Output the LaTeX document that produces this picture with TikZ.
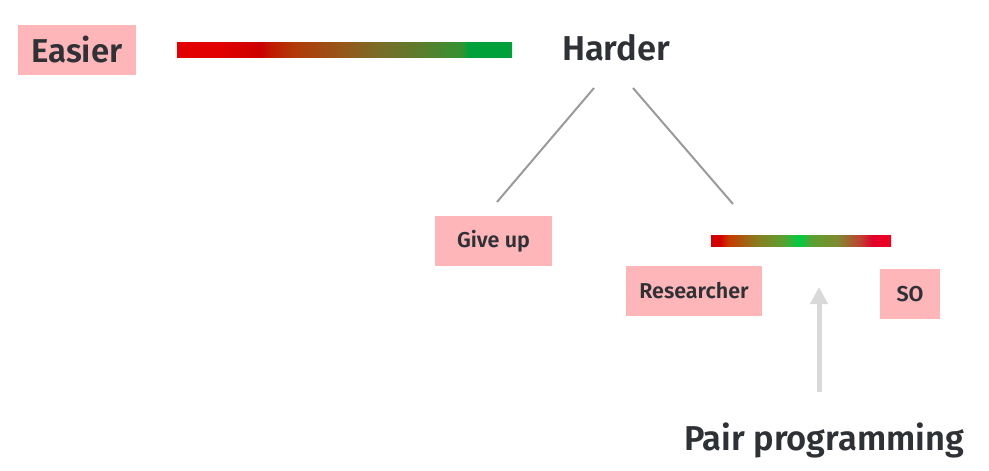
\documentclass[tikz,border=0pt]{standalone}
\usepackage{fontspec}
\setmainfont{Fira Sans}[UprightFont=* SemiBold,BoldFont=* Bold]
\usetikzlibrary{arrows.meta,positioning}
\definecolor{tagpink}{HTML}{FFB6B9}
\definecolor{txtgray}{HTML}{2E3136}
\definecolor{linegray}{HTML}{9A9A9A}
\definecolor{arrowgray}{HTML}{D9D9D9}
\definecolor{ra}{HTML}{E30000}
\definecolor{rb}{HTML}{CC0000}
\definecolor{rc}{HTML}{C01A00}
\definecolor{rd}{HTML}{B03A08}
\definecolor{re}{HTML}{985418}
\definecolor{rf}{HTML}{7A6C28}
\definecolor{rg}{HTML}{5C7C2C}
\definecolor{rh}{HTML}{349232}
\definecolor{ri}{HTML}{00A03A}
\definecolor{pa}{HTML}{D40000}
\definecolor{pb}{HTML}{C43C00}
\definecolor{pc}{HTML}{8C7A20}
\definecolor{pd}{HTML}{5AA030}
\definecolor{pe}{HTML}{00CC44}
\definecolor{pf}{HTML}{808A30}
\definecolor{pg}{HTML}{C04030}
\definecolor{ph}{HTML}{E0002A}
\definecolor{pi}{HTML}{F20020}
\pgfdeclarehorizontalshading{easyhard}{100bp}{color(0bp)=(ra); color(25bp)=(ra); color(31bp)=(ra);
  color(37.5bp)=(rb); color(39bp)=(rc); color(42.5bp)=(rd); color(49bp)=(re); color(55bp)=(rf);
  color(61bp)=(rg); color(67.5bp)=(rh); color(68.5bp)=(ri); color(75bp)=(ri); color(100bp)=(ri)}
\pgfdeclarehorizontalshading{pairbar}{100bp}{color(0bp)=(pa); color(25bp)=(pa); color(27.5bp)=(pa);
  color(30bp)=(pb); color(37.5bp)=(pc); color(45bp)=(pd); color(49.5bp)=(pe); color(53bp)=(pd);
  color(60bp)=(pf); color(66.5bp)=(pg); color(70bp)=(ph); color(75bp)=(pi); color(100bp)=(pi)}
\tikzset{
  tag/.style={fill=tagpink, text=txtgray, inner sep=0pt, minimum height=50pt},
  bigtxt/.style={text=txtgray, font=\fontsize{34.5}{40}\selectfont},
  smalltxt/.style={font=\fontsize{21.5}{26}\selectfont},
  link/.style={draw=linegray, line width=2pt},
}
\begin{document}
\begin{tikzpicture}[x=1pt,y=-1pt]
\useasboundingbox (0,0) rectangle (989,471);
\node(easier) [tag, bigtxt, font=\fontsize{33}{40}\selectfont, minimum width=118pt] at (77,50) {Easier};
\node(harder) [bigtxt] at (616,48) {Harder};
\node(giveup) [tag, smalltxt, minimum width=117pt] at (493.5,241) {Give up};
\node(researcher) [tag, smalltxt, minimum width=136pt] at (694,291) {Researcher};
\node(so) [tag, smalltxt, minimum width=60pt] at (910,294) {SO};
\node(pair) [bigtxt] at (824,440) {Pair programming};
\shade[shading=easyhard] (177,42) rectangle (512,57);
\shade[shading=pairbar] (711,235) rectangle (891,246);
\coordinate(hl) at (594,88);
\coordinate(hr) at (633,88);
\coordinate(gu) at (497,202);
\coordinate(pt) at (733,204);
\coordinate(tip) at (819,287);
\coordinate(foot) at (819,392);
\draw[link] (hl) -- (gu);
\draw[link] (hr) -- (pt);
\draw[draw=arrowgray, line width=5pt, -{Triangle[width=17pt,length=17pt]}] (foot) -- (tip);
\end{tikzpicture}
\end{document}
